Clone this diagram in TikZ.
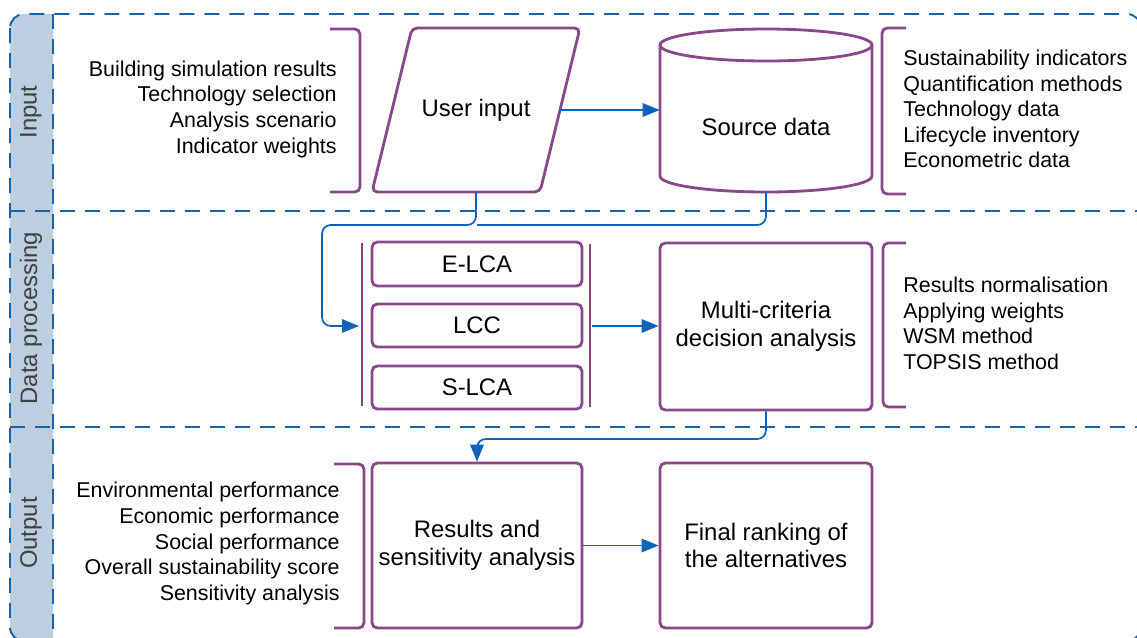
\documentclass[tikz,border=0pt]{standalone}
\usepackage{fontspec}
\setmainfont{Liberation Sans}
\usetikzlibrary{arrows.meta}
\definecolor{boxpurple}{RGB}{137,72,137}
\definecolor{laneblue}{RGB}{25,98,168}
\definecolor{connblue}{RGB}{14,100,188}
\definecolor{bandfill}{RGB}{187,207,225}
\definecolor{lanetext}{RGB}{64,64,64}

\begin{document}
\begin{tikzpicture}[x=0.02cm, y=-0.02cm,
		outline/.style={draw=boxpurple, line width=1.6pt},
		bracket/.style={outline, rounded corners=3pt},
		box/.style={outline, rounded corners=3pt, align=center, inner sep=0pt, font=\fontsize{13.6}{15.6}\selectfont},
		lane/.style={draw=laneblue, line width=1.1pt, dash pattern=on 0.3cm off 0.2cm},
		conn/.style={draw=connblue, line width=1pt, rounded corners=5pt},
		tip/.style={-{Triangle[length=0.34cm,width=0.27cm]}},
		list/.style={inner sep=0pt, font=\fontsize{12.2}{14.6}\selectfont},
		lanelabel/.style={rotate=90, text=lanetext, font=\fontsize{13.6}{16}\selectfont}]
	\useasboundingbox (0,0) rectangle (1137,637);
	\clip (0,0) rectangle (1137,637);

	% swimlanes
	\fill[bandfill] (53,14) [rounded corners=8pt] -- (10,14) -- (10,641) [sharp corners] -- (53,641) -- cycle;
	\draw[lane, rounded corners=8pt] (10,14) rectangle (1141,641);
	\draw[lane] (53,14) -- (53,641);
	\draw[lane] (10,211) -- (1141,211);
	\draw[lane] (10,427) -- (1141,427);
	\node[lanelabel] (lanein) at (31,112) {Input};
	\node[lanelabel] (lanedp) at (31,318) {Data processing};
	\node[lanelabel] (laneout) at (31,533) {Output};

	% input
	\node[list, anchor=east, align=right] (inlist) at (337,109) {Building simulation results\\Technology selection\\Analysis scenario\\Indicator weights};
	\draw[bracket] (330,29) -- (360,29) -- (360,192) -- (330,192);
	\node[inner sep=0pt, minimum width=3.36cm, minimum height=3.28cm, font=\fontsize{13.6}{15.6}\selectfont] (userin) at (476,110) {User input};
	\draw[bracket] (372,192) -- (412,28) -- (580,28) -- (540,192) -- cycle;
	\node[inner sep=0pt, minimum width=4.24cm, minimum height=2.62cm, font=\fontsize{13.6}{15.6}\selectfont] (srcdata) at (766,126.5) {Source data};
	\draw[outline] (766,45) ellipse [x radius=2.12cm, y radius=0.32cm];
	\draw[outline] (660,45) -- (660,176) arc[start angle=180, end angle=360, x radius=2.12cm, y radius=0.32cm] -- (872,45);
	\draw[bracket] (906,28) -- (882,28) -- (882,194) -- (906,194);
	\node[list, anchor=west, align=left] (srclist) at (903,109) {Sustainability indicators\\Quantification methods\\Technology data\\Lifecycle inventory\\Econometric data};
	\draw[conn, tip] (userin.east) -- (userin.east -| srcdata.west);

	% data processing
	\draw[outline] (362,243) -- (362,406);
	\draw[outline] (590,244) -- (590,407);
	\coordinate (grpin) at (359,326);
	\coordinate (grpout) at (592,326);
	\node[box, minimum width=4.2cm, minimum height=0.88cm] (elca) at (477,264) {E-LCA};
	\node[box, minimum width=4.2cm, minimum height=0.86cm] (lcc) at (477,325.5) {LCC};
	\node[box, minimum width=4.2cm, minimum height=0.86cm] (slca) at (477,387.5) {S-LCA};
	\node[box, minimum width=4.24cm, minimum height=3.34cm] (mcda) at (766,326.5) {Multi-criteria\\decision analysis};
	\draw[bracket] (906,243) -- (883,243) -- (883,407) -- (906,407);
	\node[list, anchor=west, align=left] (mcdalist) at (903,323.5) {Results normalisation\\Applying weights\\WSM method\\TOPSIS method};
	\draw[conn, tip] (userin.south) |- (322,225) |- (grpin);
	\draw[conn] (srcdata.south) |- (477,225);
	\draw[conn, tip] (grpout) -- (grpout -| mcda.west);

	% output
	\node[list, anchor=east, align=right] (outlist) at (340,543.5) {Environmental performance\\Economic performance\\Social performance\\Overall sustainability score\\Sensitivity analysis};
	\draw[bracket] (334,464) -- (364,464) -- (364,628) -- (334,628);
	\node[box, minimum width=4.2cm, minimum height=3.3cm] (results) at (477,545.5) {Results and\\sensitivity analysis};
	\node[box, minimum width=4.24cm, minimum height=3.3cm] (final) at (766,545.5) {Final ranking of\\the alternatives};
	\draw[conn, tip] (mcda.south) |- (477,439) -- (results.north);
	\draw[conn, tip] (results.east) -- (final.west);
\end{tikzpicture}
\end{document}
